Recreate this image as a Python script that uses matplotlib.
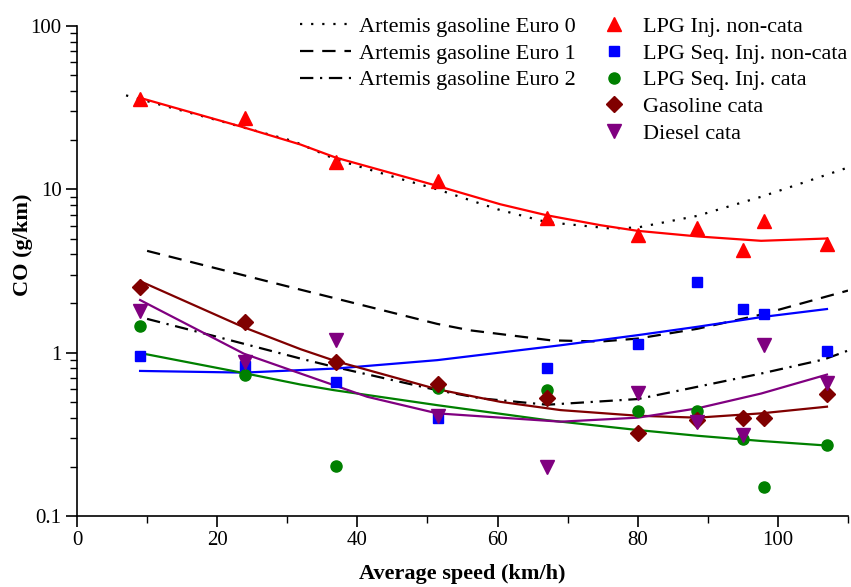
import numpy as np
import matplotlib
matplotlib.use('Agg')
import matplotlib.pyplot as plt
from matplotlib.ticker import FixedLocator, LogLocator, NullFormatter, FuncFormatter, MultipleLocator


plt.rcParams['font.family'] = ['Liberation Serif', 'DejaVu Serif']

# measured points
speed = [9, 24, 37, 51.5, 67, 80, 88.5, 95, 98, 107]
lpg_inj_noncata = [35.9, 27.5, 14.6, 11.3, 6.7, 5.25, 5.78, 4.25, 6.38, 4.62]
lpg_seq_noncata = [0.95, 0.83, 0.66, 0.40, 0.81, 1.13, 2.72, 1.85, 1.73, 1.02]
lpg_seq_cata = [1.45, 0.73, 0.203, 0.61, 0.59, 0.44, 0.44, 0.295, 0.151, 0.272]
gasoline_cata = [2.52, 1.54, 0.877, 0.647, 0.53, 0.32, 0.386, 0.40, 0.40, 0.555]
diesel_cata = [1.81, 0.88, 1.19, 0.41, 0.20, 0.57, 0.378, 0.313, 1.12, 0.656]

# trend lines
red_fit_x = [9, 23.3, 31.9, 37, 51.4, 60.4, 67, 74.7, 80, 88.5, 97.6, 107]
red_fit_y = [36.3, 24.3, 18.8, 15.6, 10.5, 8.1, 6.94, 6.03, 5.57, 5.15, 4.84, 5.0]
blue_fit_x = [9, 23.8, 37, 51.4, 69, 80, 88.5, 97.6, 107]
blue_fit_y = [0.773, 0.755, 0.80, 0.90, 1.11, 1.28, 1.44, 1.65, 1.85]
green_fit_x = [9, 23.8, 31.9, 36.6, 51.4, 67.1, 80, 88.5, 97.6, 107]
green_fit_y = [0.995, 0.75, 0.638, 0.59, 0.477, 0.386, 0.336, 0.31, 0.288, 0.27]
gas_fit_x = [9, 23.8, 31.9, 37, 51.4, 60.4, 69, 80, 88.5, 97.6, 107]
gas_fit_y = [2.74, 1.43, 1.05, 0.885, 0.597, 0.50, 0.445, 0.411, 0.40, 0.425, 0.467]
diesel_fit_x = [9, 23.8, 31.9, 41.4, 51.4, 69, 80, 88.5, 97.6, 107]
diesel_fit_y = [2.1, 0.986, 0.745, 0.537, 0.425, 0.378, 0.40, 0.456, 0.562, 0.734]

# Artemis gasoline curves
euro0_x = [7, 20, 30.9, 37, 46.1, 51.4, 60, 67, 76.1, 80, 88.5, 97.6, 104.2, 110]
euro0_y = [37.6, 26.5, 19.7, 15.2, 11.6, 10.0, 7.55, 6.3, 5.76, 5.84, 6.88, 9.0, 11.2, 13.6]
euro1_x = [10, 31.9, 51.4, 56.1, 67.6, 74.7, 80, 88.5, 97.6, 110]
euro1_y = [4.2, 2.43, 1.50, 1.37, 1.19, 1.17, 1.22, 1.40, 1.71, 2.4]
euro2_x = [10, 20, 31.9, 36.6, 51.4, 57.6, 67.1, 80, 88.5, 97.6, 106.6, 110]
euro2_y = [1.61, 1.25, 0.92, 0.82, 0.589, 0.525, 0.48, 0.52, 0.618, 0.745, 0.91, 1.03]

fig = plt.figure(figsize=(8.51, 5.87), dpi=100)
ax = fig.add_axes([77/851, 1 - 516/587, 771/851, 490/587])

l0, = ax.plot(euro0_x, euro0_y, color='black', lw=1.6, linestyle=(0, (1, 4)),
              label='Artemis gasoline Euro 0')
l1, = ax.plot(euro1_x, euro1_y, color='black', lw=1.6, linestyle=(0, (6, 4)),
              label='Artemis gasoline Euro 1')
l2, = ax.plot(euro2_x, euro2_y, color='black', lw=1.6, linestyle=(0, (6, 3, 1, 3)),
              label='Artemis gasoline Euro 2')

ax.plot(red_fit_x, red_fit_y, color='#ff0000', lw=1.6)
ax.plot(blue_fit_x, blue_fit_y, color='#0000ff', lw=1.6)
ax.plot(green_fit_x, green_fit_y, color='#008000', lw=1.6)
ax.plot(gas_fit_x, gas_fit_y, color='#800000', lw=1.6)
ax.plot(diesel_fit_x, diesel_fit_y, color='#800080', lw=1.6)

m1, = ax.plot(speed, lpg_inj_noncata, '^', color='#ff0000', ms=9.5, ls='none',
              label='LPG Inj. non-cata')
m2, = ax.plot(speed, lpg_seq_noncata, 's', color='#0000ff', ms=7.2, ls='none',
              label='LPG Seq. Inj. non-cata')
m3, = ax.plot(speed, lpg_seq_cata, 'o', color='#008000', ms=8, ls='none',
              label='LPG Seq. Inj. cata')
m4, = ax.plot(speed, gasoline_cata, 'D', color='#800000', ms=8.5, ls='none',
              label='Gasoline cata')
m5, = ax.plot(speed, diesel_cata, 'v', color='#800080', ms=9.5, ls='none',
              label='Diesel cata')

ax.set_yscale('log')
ax.set_ylim(0.1, 100)
ax.set_xlim(0, 110)
ax.yaxis.set_major_locator(FixedLocator([0.1, 1, 10, 100]))
ax.yaxis.set_major_formatter(FuncFormatter(lambda v, p: '%g' % v))
ax.yaxis.set_minor_locator(LogLocator(base=10, subs=np.arange(2, 10)))
ax.yaxis.set_minor_formatter(NullFormatter())
ax.xaxis.set_major_locator(FixedLocator([0, 20, 40, 60, 80, 100]))
ax.xaxis.set_minor_locator(MultipleLocator(10))

for s in ['top', 'right']:
    ax.spines[s].set_visible(False)
for s in ['left', 'bottom']:
    ax.spines[s].set_linewidth(1.2)
ax.tick_params(which='major', length=8, width=1.2, labelsize=15, pad=3)
ax.tick_params(which='minor', length=5, width=1.0)

ax.set_xlabel('Average speed (km/h)', fontsize=16, fontweight='bold', labelpad=10)
ax.set_ylabel('CO (g/km)', fontsize=16, fontweight='bold')
ax.yaxis.set_label_coords(-0.057, 0.553)

leg1 = ax.legend(handles=[l0, l1, l2], loc='upper left', bbox_to_anchor=(0.289, 1.02),
                 frameon=False, fontsize=16, borderpad=0, borderaxespad=0,
                 handlelength=2.3, handletextpad=0.35, labelspacing=0.28)
ax.add_artist(leg1)
ax.legend(handles=[m1, m2, m3, m4, m5], loc='upper left', bbox_to_anchor=(0.682, 1.02),
          frameon=False, fontsize=16, borderpad=0, borderaxespad=0,
          handlelength=1.0, handletextpad=0.8, labelspacing=0.28)

fig.savefig('out.png', dpi=100)
